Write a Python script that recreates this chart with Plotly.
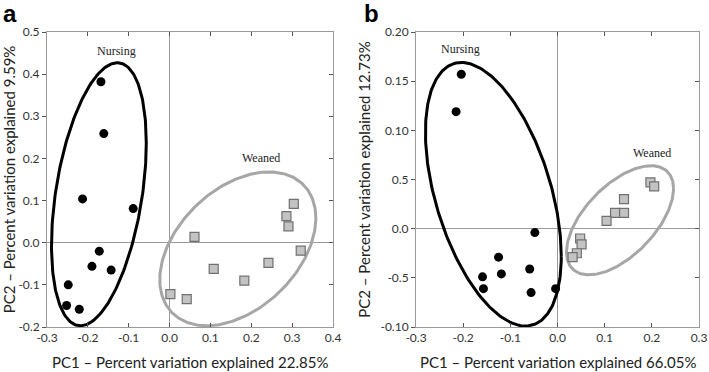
import numpy as np
import plotly.graph_objects as go

W, H = 709, 372

# ---------------- Panel a data ----------------
a_nursing_pc1 = [-0.168, -0.161, -0.213, -0.089, -0.172, -0.190, -0.143, -0.248, -0.252, -0.221]
a_nursing_pc2 = [0.382, 0.259, 0.104, 0.081, -0.020, -0.056, -0.065, -0.100, -0.149, -0.158]
a_weaned_pc1 = [0.061, 0.002, 0.042, 0.108, 0.183, 0.242, 0.286, 0.291, 0.304, 0.321]
a_weaned_pc2 = [0.014, -0.122, -0.134, -0.062, -0.090, -0.048, 0.063, 0.039, 0.092, -0.019]
# ellipse: center x, center y, x half-extent, y half-extent, correlation
a_nursing_ellipse = [-0.173, 0.115, 0.116, 0.312, 0.39]
a_weaned_ellipse = [0.167, -0.0145, 0.191, 0.1825, 0.40]

# ---------------- Panel b data ----------------
b_nursing_pc1 = [-0.204, -0.215, -0.048, -0.125, -0.119, -0.159, -0.157, -0.059, -0.056, -0.004]
b_nursing_pc2 = [0.157, 0.119, -0.004, -0.029, -0.046, -0.049, -0.061, -0.041, -0.065, -0.061]
b_weaned_pc1 = [0.197, 0.205, 0.141, 0.141, 0.122, 0.104, 0.048, 0.051, 0.041, 0.032]
b_weaned_pc2 = [0.047, 0.043, 0.030, 0.016, 0.016, 0.008, -0.010, -0.016, -0.025, -0.029]
b_nursing_ellipse = [-0.136, 0.035, 0.144, 0.134, -0.47]
b_weaned_ellipse = [0.1325, 0.0085, 0.1135, 0.0555, 0.58]

# ---------------- Tick labels ----------------
a_xticks = [-0.3, -0.2, -0.1, 0.0, 0.1, 0.2, 0.3, 0.4]
a_xticktext = ["-0.3", "-0.2", "-0.1", "0.0", "0.1", "0.2", "0.3", "0.4"]
a_yticks = [-0.2, -0.1, 0.0, 0.1, 0.2, 0.3, 0.4, 0.5]
a_yticktext = ["-0.2", "-0.1", "0.0", "0.1", "0.2", "0.3", "0.4", "0.5"]
b_xticks = [-0.3, -0.2, -0.1, 0.0, 0.1, 0.2, 0.3]
b_xticktext = ["-0.3", "-0.2", "-0.1", "0.0", "0.1", "0.2", "0.3"]
b_yticks = [-0.10, -0.05, 0.0, 0.05, 0.10, 0.15, 0.20]
b_yticktext = ["-0.10", "-0.5", "0.0", "0.5", "0.10", "0.15", "0.20"]

a_xtitle = "PC1 – Percent variation explained 22.85%"
a_ytitle = "PC2 – Percent variation explained 9.59%"
b_xtitle = "PC1 – Percent variation explained 66.05%"
b_ytitle = "PC2 – Percent variation explained 12.73%"


def ellipse(params, n=240):
    cx, cy, rx, ry, rho = params
    phi = np.arccos(rho)
    t = np.linspace(0, 2 * np.pi, n)
    return cx + rx * np.cos(t), cy + ry * np.cos(t - phi)


fig = go.Figure()

BLACK = "#000000"
GREY_LINE = "#a6a6a6"
SQ_FILL = "#c3c3c3"
SQ_EDGE = "#707070"


def add_panel(xa, ya, n_pc1, n_pc2, w_pc1, w_pc2, n_ell, w_ell):
    ex, ey = ellipse(n_ell)
    fig.add_trace(go.Scatter(x=ex, y=ey, mode="lines", line=dict(color=BLACK, width=3),
                             xaxis=xa, yaxis=ya, showlegend=False, hoverinfo="skip"))
    ex, ey = ellipse(w_ell)
    fig.add_trace(go.Scatter(x=ex, y=ey, mode="lines", line=dict(color=GREY_LINE, width=3),
                             xaxis=xa, yaxis=ya, showlegend=False, hoverinfo="skip"))
    fig.add_trace(go.Scatter(x=n_pc1, y=n_pc2, mode="markers",
                             marker=dict(symbol="circle", size=9, color=BLACK),
                             xaxis=xa, yaxis=ya, showlegend=False))
    fig.add_trace(go.Scatter(x=w_pc1, y=w_pc2, mode="markers",
                             marker=dict(symbol="square", size=9, color=SQ_FILL,
                                         line=dict(color=SQ_EDGE, width=1.2)),
                             xaxis=xa, yaxis=ya, showlegend=False))


add_panel("x", "y", a_nursing_pc1, a_nursing_pc2, a_weaned_pc1, a_weaned_pc2,
          a_nursing_ellipse, a_weaned_ellipse)
add_panel("x2", "y2", b_nursing_pc1, b_nursing_pc2, b_weaned_pc1, b_weaned_pc2,
          b_nursing_ellipse, b_weaned_ellipse)
# empty traces to host right-side inside tick axes
fig.add_trace(go.Scatter(x=[], y=[], xaxis="x", yaxis="y3", showlegend=False))
fig.add_trace(go.Scatter(x=[], y=[], xaxis="x2", yaxis="y4", showlegend=False))

FONT = "Lato"
tickfont = dict(family=FONT, size=12, color="#333333")
titlefont = dict(family=FONT, size=15, color="#222222")

ydom = [(H - 327) / H, (H - 32) / H]
a_xdom = [47 / W, 333 / W]
b_xdom = [416 / W, 699 / W]

common_x = dict(showline=True, linecolor="#9a9a9a", linewidth=1, mirror="ticks",
                ticks="inside", ticklen=4, tickcolor="#555555", tickwidth=1,
                showgrid=False, zeroline=True, zerolinecolor="#9a9a9a", zerolinewidth=1,
                tickfont=tickfont, tickmode="array", automargin=False)
common_y = dict(showline=True, linecolor="#9a9a9a", linewidth=1, mirror=True,
                ticks="outside", ticklen=4, tickcolor="#555555", tickwidth=1,
                showgrid=False, zeroline=True, zerolinecolor="#9a9a9a", zerolinewidth=1,
                tickfont=tickfont, tickmode="array", automargin=False)

fig.update_layout(
    width=W, height=H,
    margin=dict(l=0, r=0, t=0, b=0),
    paper_bgcolor="white", plot_bgcolor="white",
    xaxis=dict(common_x, domain=a_xdom, range=[-0.3, 0.4], tickvals=a_xticks,
               ticktext=a_xticktext, anchor="y"),
    yaxis=dict(common_y, domain=ydom, range=[-0.2, 0.5], tickvals=a_yticks,
               ticktext=a_yticktext, anchor="x",
               title=dict(text=a_ytitle, font=titlefont, standoff=6)),
    xaxis2=dict(common_x, domain=b_xdom, range=[-0.3, 0.3], tickvals=b_xticks,
                ticktext=b_xticktext, anchor="y2"),
    yaxis2=dict(common_y, domain=ydom, range=[-0.10, 0.20], tickvals=b_yticks,
                ticktext=b_yticktext, anchor="x2",
                title=dict(text=b_ytitle, font=titlefont, standoff=6)),
    yaxis3=dict(overlaying="y", side="right", anchor="x", range=[-0.2, 0.5],
                tickmode="array", tickvals=a_yticks, showticklabels=False,
                ticks="inside", ticklen=4, tickcolor="#555555", showline=False,
                showgrid=False, zeroline=False, automargin=False),
    yaxis4=dict(overlaying="y2", side="right", anchor="x2", range=[-0.10, 0.20],
                tickmode="array", tickvals=b_yticks, showticklabels=False,
                ticks="inside", ticklen=4, tickcolor="#555555", showline=False,
                showgrid=False, zeroline=False, automargin=False),
)

# x-axis titles placed as paper annotations for exact vertical position
fig.add_annotation(x=(a_xdom[0] + a_xdom[1]) / 2, y=1 - 362 / H, xref="paper", yref="paper",
                   text=a_xtitle, showarrow=False, font=titlefont,
                   xanchor="center", yanchor="middle")
fig.add_annotation(x=(b_xdom[0] + b_xdom[1]) / 2, y=1 - 362 / H, xref="paper", yref="paper",
                   text=b_xtitle, showarrow=False, font=titlefont,
                   xanchor="center", yanchor="middle")

serif = dict(family="Liberation Serif", size=12, color="#222222")
fig.add_annotation(x=-0.129, y=0.454, xref="x", yref="y", text="Nursing",
                   showarrow=False, font=serif)
fig.add_annotation(x=0.224, y=0.200, xref="x", yref="y", text="Weaned",
                   showarrow=False, font=serif)
fig.add_annotation(x=-0.205, y=0.183, xref="x2", yref="y2", text="Nursing",
                   showarrow=False, font=serif)
fig.add_annotation(x=0.201, y=0.077, xref="x2", yref="y2", text="Weaned",
                   showarrow=False, font=serif)

panel_font = dict(family="Liberation Sans", size=24, color="#000000")
fig.add_annotation(x=1 / W, y=1 - 14 / H, xref="paper", yref="paper", text="<b>a</b>",
                   showarrow=False, xanchor="left", yanchor="middle", font=panel_font)
fig.add_annotation(x=362 / W, y=1 - 14 / H, xref="paper", yref="paper", text="<b>b</b>",
                   showarrow=False, xanchor="left", yanchor="middle", font=panel_font)

fig.write_html("out.html", config={"displayModeBar": False},
               post_script="document.body.style.margin='0';document.body.style.overflow='hidden';")
